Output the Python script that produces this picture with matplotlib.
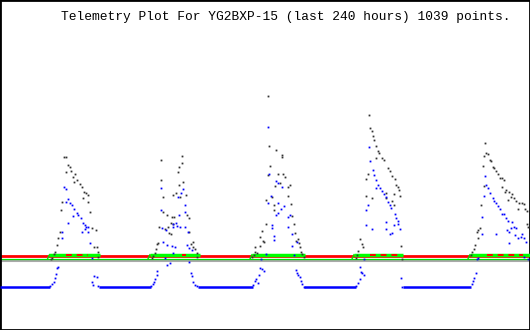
import matplotlib
matplotlib.use("Agg")
import matplotlib.pyplot as plt


# Telemetry values (x: hours in the 240 h window, y: raw units)
title = "Telemetry Plot For YG2BXP-15 (last 240 hours) 1039 points."

# black channel, five sunlit passes
black_hours = [
    28.8, 29.9, 30.9, 31.6, 29.7, 32.1, 34.0, 33.1, 34.9, 33.4, 36.2, 37.0, 38.2, 39.1, 37.6, 40.0, 39.7,
    27.9, 27.6, 40.9, 41.8, 43.3, 27.0, 26.4, 25.7, 42.4, 43.8, 24.9, 44.2, 24.3, 23.7, 44.5, 23.1,
    82.5, 72.8, 82.3, 81.2, 80.7, 73.0, 81.2, 83.0, 79.7, 78.5, 84.2, 73.7, 81.5, 73.9, 75.8, 77.7, 78.8,
    84.8, 85.7, 77.6, 78.5, 76.2, 72.1, 74.8, 85.4, 76.7, 77.3, 71.5, 71.0, 87.3, 86.6, 87.5, 70.6, 88.4,
    70.0, 89.1, 69.4, 89.3, 68.8,
    121.5, 121.9, 125.1, 127.8, 127.6, 122.4, 121.2, 126.0, 128.1, 129.0, 124.5, 126.6, 131.2, 130.3,
    130.5, 123.0, 120.6, 131.8, 124.2, 123.9, 132.4, 120.3, 133.0, 118.5, 133.6, 117.9, 119.1, 119.7,
    134.8, 133.9, 117.6, 135.4, 115.5, 135.7, 115.5, 116.4, 136.3, 114.9, 136.9, 137.5, 114.2,
    167.1, 167.7, 168.3, 168.9, 169.5, 170.4, 171.0, 171.6, 170.1, 172.8, 173.7, 175.6, 176.5, 177.4,
    178.9, 166.5, 165.9, 179.4, 180.1, 180.7, 174.9, 178.3, 165.6, 168.6, 174.6, 177.4, 181.0, 178.5,
    163.1, 163.8, 164.4, 181.6, 162.2, 161.6, 161.3, 181.9,
    219.6, 220.2, 221.1, 221.7, 222.3, 219.3, 218.7, 223.2, 223.8, 224.7, 225.6, 226.3, 227.4, 228.3,
    227.4, 219.0, 229.3, 228.7, 230.5, 232.0, 231.4, 232.9, 230.2, 233.5, 235.0, 236.2, 237.4, 234.7,
    217.8, 237.7, 238.6, 238.6, 239.2, 217.2, 216.6, 216.0, 216.3, 215.1, 214.5, 213.9, 213.3,
]
black_vals = [
    173.3, 172.7, 165, 162.7, 158.3, 159.3, 156, 153.3, 150, 148.3, 145.7, 142.7, 137.7, 136.7, 132.3, 135, 128.3,
    128.3, 120, 118.3, 101.7, 100, 98.3, 91.7, 85, 83.3, 83.3, 78.3, 78.3, 76, 71.7, 72.7, 70.7,
    174, 170, 167.3, 163.3, 158.3, 150, 145, 148.3, 136.7, 135, 135, 132.7, 133.3, 118.3, 115, 113.3, 113.3,
    115, 111.7, 107.3, 106, 103.3, 102.7, 100.7, 98.3, 97.3, 96, 87.3, 86, 88.3, 86, 83.3, 80.7, 80.7,
    77.3, 76.7, 74, 73.3, 71.7,
    234, 184, 180, 175, 173.3, 164, 155, 156, 156, 152.7, 144, 146.7, 145, 142.7,
    134, 132.7, 130, 126, 125, 120, 114, 106, 106, 99.3, 97.3, 92.7, 89.3, 88,
    90.7, 89.3, 84, 86.7, 83.3, 83.3, 78.3, 76.7, 78.3, 75, 76, 73.3, 73.3,
    215.3, 202, 198.7, 193.7, 190.3, 183.7, 179.3, 177, 172, 172, 170.3, 162, 159.3, 153.7,
    151.3, 156, 151.3, 145.3, 142.7, 140.3, 137, 136, 133.7, 132, 132, 128.7, 133.7, 124.7,
    91.3, 86, 82.7, 83.7, 78.7, 74.7, 72, 71.3,
    186.7, 176.7, 175.7, 170, 169, 174.3, 164.3, 163.3, 161.7, 159, 155.7, 152.3, 151.7, 150,
    143.3, 144.3, 140, 137.7, 137.7, 135.7, 133.3, 132.3, 130, 129, 126.7, 126.7, 125.7, 121,
    125, 121, 119, 105.7, 103.3, 102.3, 100, 98.3, 91.7, 85, 81, 78.3, 75,
]

# blue channel, five sunlit passes
blue_hours = [
    28.8, 29.7, 30.9, 29.7, 31.8, 32.5, 33.6, 34.9, 35.5, 36.7, 33.2, 30.7, 37.6, 38.5, 39.1, 39.7, 37.3,
    38.5, 40.0, 27.9, 28.2, 40.9, 41.5, 26.4, 25.8, 25.5, 24.9, 24.3, 23.7, 22.8, 42.7, 43.8, 41.8, 42.2, 44.5,
    72.8, 82.7, 82.1, 80.6, 83.9, 73.0, 83.6, 80.9, 78.5, 79.7, 78.2, 80.0, 81.5, 83.9, 73.4, 75.2, 85.1,
    73.9, 75.8, 77.9, 79.1, 84.8, 85.7, 86.9, 78.5, 74.8, 77.0, 75.5, 85.4, 71.2, 71.0, 86.4, 86.8, 70.3,
    69.7, 69.1, 87.5, 88.2, 68.5, 89.3,
    121.5, 121.8, 125.1, 126.0, 127.6, 122.7, 121.2, 126.0, 128.7, 127.2, 125.7, 124.8, 131.2, 130.5,
    123.0, 130.5, 123.3, 132.1, 124.2, 123.9, 134.5, 132.4, 120.3, 133.0, 118.2, 117.9, 118.8, 119.7,
    133.9, 134.5, 117.3, 135.1, 116.1, 135.7, 115.5, 136.3, 116.7, 136.9, 114.6, 137.5,
    167.1, 167.7, 168.9, 169.5, 170.4, 171.3, 171.9, 170.1, 172.8, 173.7, 174.9, 175.6, 176.5, 177.0,
    166.5, 165.9, 178.9, 179.4, 180.1, 174.9, 178.3, 180.4, 165.6, 168.6, 174.6, 181.0, 177.6, 176.5,
    165.0, 163.1, 163.5, 164.0, 164.7, 162.9, 162.0, 161.3, 181.6, 182.2,
    219.6, 220.2, 220.8, 221.7, 219.0, 223.2, 223.8, 224.7, 225.6, 226.3, 227.2, 218.4, 228.1, 229.3,
    229.9, 231.7, 232.6, 231.4, 233.5, 229.6, 230.5, 233.2, 236.5, 234.7, 235.9, 237.1, 218.1, 224.5,
    230.5, 238.0, 237.3, 239.1, 216.6, 216.0, 215.7, 214.8, 214.2, 213.6,
]
blue_vals = [
    143.3, 140.7, 130.7, 128.3, 126.7, 125, 120.7, 116.7, 115, 111.7, 114, 107.3, 106.7, 105, 102.7, 103.3, 98.3,
    100.7, 98.3, 98.3, 91.7, 87.3, 71.7, 63.3, 61.7, 56, 51.7, 48.3, 46, 44, 54, 52.7, 48.3, 45, 44,
    141.7, 140.7, 137.3, 132.7, 125, 120, 118.3, 115, 106, 107.3, 102.7, 104, 102.7, 102.7, 101.7, 100, 98.3,
    88.3, 85, 84, 82.7, 85, 81.7, 80, 77.3, 71.7, 67.3, 65, 68.3, 59.3, 55, 57.3, 54, 50.7,
    48.3, 46, 48.3, 45, 44, 44,
    203.3, 156, 149.3, 147.3, 143.3, 134, 127.3, 126.7, 124, 120.7, 116.7, 115, 115, 112.7,
    105, 103.3, 101.7, 96, 94, 90, 88.3, 84, 76, 75.3, 70.7, 61.7, 60.7, 59.3,
    60, 57.3, 55, 55, 51.3, 52.7, 49.3, 49.3, 47.3, 46, 45, 43.3,
    182.7, 168.7, 160.3, 155.3, 150.3, 145.3, 142, 142, 139.3, 136, 132.7, 128, 125.3, 122,
    125.3, 120.3, 116, 112, 109.3, 108, 105.3, 106, 104.7, 101.3, 101.3, 101.3, 97, 96,
    71.3, 63.3, 58, 56.7, 54.7, 51.3, 47, 43.7, 52, 42.7,
    154.3, 145, 141.7, 136.7, 134.3, 131.7, 129, 126.7, 124.3, 121, 115.7, 113.3, 115.7, 111.7,
    109, 107.7, 103.3, 101.7, 101.7, 100, 97.7, 95, 95.7, 92.3, 93.3, 92.3, 95.7, 95.7,
    86.7, 88.3, 73.3, 71.3, 72.3, 71, 56.7, 52.3, 49, 45.7,
]

# blue channel while in eclipse (flat level)
blue_night_start = [0.0, 44.8, 89.7, 137.7, 182.5]
blue_night_end = [22.6, 68.4, 114.6, 161.2, 213.3]
blue_night_level = 43.3

# other channels
gray_level = 69.2
red_level = 74.4
green_night_level = 71.0
green_sun_level = 75.3
sun_start = [22.4, 67.9, 114.1, 160.3, 212.8]
sun_end = [45.3, 90.6, 138.1, 182.5, 240.0]
red_peak_start = [29.9, 82.4, 167.5, 220.5]
red_peak_end = [39.8, 84.2, 181.1, 236.8]

fig = plt.figure(figsize=(5.3, 3.3), dpi=100)
ax = fig.add_axes([0, 0, 1, 1])

ax.axhline(gray_level, color="#a9a9a9", lw=1.5, zorder=1)
ax.axhline(red_level, color="#ff0000", lw=2.0, zorder=2)
ax.axhline(green_night_level, color="#00e000", lw=0.9, zorder=2)

for s, e in zip(sun_start, sun_end):
    ax.plot([s - 0.9, s], [green_night_level, green_sun_level], color="#00e000", lw=1.0, zorder=3)
    ax.plot([s, e], [green_sun_level, green_sun_level], color="#00ff00", lw=2.5,
            solid_capstyle="butt", zorder=3)

for s, e in zip(red_peak_start, red_peak_end):
    ax.plot([s, e], [red_level + 0.3, red_level + 0.3], color="#ff0000", lw=1.4,
            ls=(0, (3, 2.5)), zorder=4)

for s, e in zip(blue_night_start, blue_night_end):
    ax.plot([s, e], [blue_night_level, blue_night_level], color="#0000ff", lw=1.8,
            solid_capstyle="butt", zorder=3)

ax.plot(black_hours, black_vals, ls="none", marker="s", ms=1.3, mew=0,
        color="#333333", zorder=5)
ax.plot(blue_hours, blue_vals, ls="none", marker="s", ms=1.3, mew=0,
        color="#0000ff", zorder=5)

ax.set_xlim(0, 240)
ax.set_ylim(0, 330)
ax.set_xticks([])
ax.set_yticks([])
for sp in ax.spines.values():
    sp.set_linewidth(2)
    sp.set_color("black")

fig.text(0.54, 0.948, title, family="Liberation Mono", fontsize=9.3,
         ha="center", va="center")

fig.savefig("out.png", dpi=100, facecolor="white")
